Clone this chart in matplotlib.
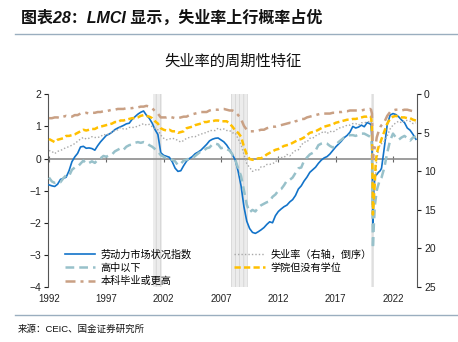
import matplotlib
matplotlib.use("Agg")
import matplotlib.pyplot as plt
import pandas as pd

plt.rcParams["font.family"] = ["Liberation Sans", "Noto Sans CJK SC", "DejaVu Sans"]
plt.rcParams["hatch.linewidth"] = 0.6

# ---- time grid: quarterly to 2019, monthly through 2020, quarterly afterwards ----
q_early = pd.date_range("1992-01-01", "2019-10-01", freq="QS")
m_2020 = pd.date_range("2020-01-01", "2020-12-01", freq="MS")
q_late = pd.date_range("2021-01-01", "2024-01-01", freq="QS")
dates = q_early.append(m_2020).append(q_late)

# Labor market conditions index (left axis)
lmci = [
    -0.82, -0.85, -0.87, -0.80,   # 1992
    -0.65, -0.62, -0.58, -0.38,   # 1993
    -0.10, 0.05, 0.16, 0.36,      # 1994
    0.38, 0.32, 0.33, 0.31,       # 1995
    0.26, 0.40, 0.52, 0.62,       # 1996
    0.72, 0.76, 0.82, 0.90,       # 1997
    0.95, 0.99, 1.03, 1.08,       # 1998
    1.10, 1.22, 1.30, 1.38,       # 1999
    1.44, 1.48, 1.35, 1.25,       # 2000
    1.10, 0.90, 0.75, 0.18,       # 2001
    0.10, 0.07, 0.04, -0.10,      # 2002
    -0.30, -0.40, -0.38, -0.22,   # 2003
    -0.08, 0.00, 0.06, 0.15,      # 2004
    0.20, 0.26, 0.35, 0.44,       # 2005
    0.55, 0.60, 0.63, 0.64,       # 2006
    0.58, 0.52, 0.42, 0.28,       # 2007
    0.12, -0.05, -0.40, -0.85,    # 2008
    -1.50, -1.95, -2.18, -2.30,   # 2009
    -2.33, -2.28, -2.22, -2.15,   # 2010
    -2.05, -1.97, -2.00, -1.78,   # 2011
    -1.65, -1.57, -1.50, -1.45,   # 2012
    -1.35, -1.28, -1.15, -0.95,   # 2013
    -0.85, -0.70, -0.58, -0.43,   # 2014
    -0.35, -0.27, -0.15, -0.05,   # 2015
    0.02, 0.06, 0.14, 0.25,       # 2016
    0.36, 0.45, 0.54, 0.65,       # 2017
    0.72, 0.82, 1.00, 0.95,       # 2018
    0.98, 1.04, 0.99, 1.12,       # 2019
    1.08, 1.05, 0.60, -2.08, -1.00, -0.60,   # 2020 H1
    -0.52, -0.50, -0.46, -0.42, -0.40, -0.36,  # 2020 H2
    -0.30, 0.35, 1.05, 1.35,      # 2021
    1.40, 1.37, 1.30, 1.20,       # 2022
    1.12, 0.95, 0.88, 0.75,       # 2023
    0.60,                         # 2024
]

# Headline unemployment rate, % (right axis, inverted)
unrate = [
    7.3, 7.4, 7.7, 7.4,  7.3, 7.1, 6.9, 6.8,  6.6, 6.4, 6.1, 5.8,
    5.6, 5.8, 5.7, 5.5,  5.6, 5.6, 5.5, 5.2,  5.3, 5.1, 4.9, 4.7,
    4.6, 4.3, 4.5, 4.5,  4.3, 4.3, 4.3, 4.1,  4.0, 3.8, 4.0, 3.9,
    4.2, 4.4, 4.6, 5.3,  5.7, 5.9, 5.8, 5.7,  5.8, 6.0, 6.2, 6.0,
    5.7, 5.6, 5.5, 5.5,  5.3, 5.2, 5.0, 5.0,  4.7, 4.7, 4.7, 4.4,
    4.6, 4.5, 4.7, 4.7,  5.0, 5.0, 5.8, 6.5,  7.8, 9.0, 9.5, 10.0,
    9.8, 9.9, 9.4, 9.4,  9.1, 9.1, 9.0, 8.8,  8.3, 8.2, 8.2, 7.8,
    8.0, 7.6, 7.3, 7.2,  6.6, 6.2, 6.2, 5.7,  5.7, 5.4, 5.2, 5.0,
    4.8, 5.1, 4.8, 4.9,  4.7, 4.4, 4.3, 4.2,  4.0, 4.0, 3.8, 3.8,
    4.0, 3.7, 3.7, 3.6,
    3.5, 3.5, 4.4, 14.8, 13.2, 11.0, 10.2, 8.4, 7.8, 6.8, 6.7, 6.7,
    6.4, 6.1, 5.4, 4.5,  4.0, 3.7, 3.5, 3.7,  3.4, 3.4, 3.5, 3.8,
    3.7,
]

# Unemployment rate, less than a high school diploma, %
below_hs = [
    10.8, 11.3, 11.5, 11.4,  11.4, 10.9, 10.5, 10.6,  9.8, 9.5, 9.4, 9.0,
    8.6, 9.0, 8.9, 8.7,  8.9, 8.5, 8.3, 8.0,  8.1, 7.9, 7.8, 7.4,
    7.2, 7.0, 7.2, 6.8,  6.6, 6.5, 6.3, 6.2,  6.3, 6.2, 6.3, 6.6,
    6.8, 7.1, 7.4, 7.9,  8.1, 8.3, 8.4, 8.5,  8.7, 9.2, 9.0, 8.6,
    8.5, 8.3, 8.3, 8.0,  7.7, 7.4, 7.3, 7.0,  6.9, 6.5, 6.4, 6.5,
    7.0, 6.9, 7.1, 7.3,  7.8, 8.5, 9.6, 10.6,  12.5, 14.3, 15.3, 15.0,
    15.2, 14.7, 14.4, 14.2,  14.0, 13.9, 13.3, 13.0,  12.5, 12.3, 11.8, 11.2,
    11.1, 10.8, 10.2, 9.6,  9.5, 8.6, 8.2, 7.8,  7.6, 7.3, 6.6, 6.4,
    6.3, 6.4, 6.7, 6.9,  6.6, 6.2, 5.9, 5.6,  5.5, 5.3, 5.3, 5.4,
    5.2, 5.1, 5.1, 5.3,
    5.5, 5.7, 6.8, 20.0, 17.0, 14.5, 13.5, 12.5, 12.0, 11.6, 11.2, 11.0,
    10.8, 9.5, 7.6, 6.0,  5.1, 5.6, 5.9, 5.6,  5.4, 5.7, 6.0, 5.6,
    5.5,
]

# Unemployment rate, some college but no degree, %
some_college = [
    5.8, 6.0, 6.2, 5.9,  5.8, 5.7, 5.4, 5.4,  5.3, 5.2, 5.0, 4.8,
    4.6, 4.7, 4.6, 4.5,  4.5, 4.3, 4.2, 4.1,  4.0, 3.9, 3.8, 3.6,
    3.6, 3.4, 3.4, 3.3,  3.2, 3.1, 3.1, 3.0,  2.8, 2.7, 2.8, 2.9,
    3.1, 3.5, 3.8, 4.4,  4.6, 4.7, 4.6, 4.8,  4.8, 5.0, 4.9, 4.8,
    4.4, 4.3, 4.2, 4.0,  3.9, 3.8, 3.6, 3.6,  3.5, 3.5, 3.4, 3.4,
    3.5, 3.5, 3.5, 3.8,  4.2, 4.7, 5.0, 5.5,  6.8, 7.8, 8.4, 8.5,
    8.5, 8.3, 8.3, 8.1,  7.8, 7.6, 7.4, 7.2,  7.1, 6.9, 6.7, 6.6,
    6.5, 6.3, 6.1, 5.9,  5.8, 5.6, 5.3, 5.0,  4.9, 4.8, 4.6, 4.4,
    4.2, 4.1, 4.0, 3.9,  3.7, 3.6, 3.5, 3.4,  3.3, 3.3, 3.2, 3.2,
    3.1, 3.0, 2.9, 2.9,
    2.8, 2.9, 4.2, 15.6, 13.5, 11.5, 8.8, 7.8, 7.2, 6.8, 6.5, 6.2,
    5.8, 4.8, 3.8, 3.2,  2.9, 2.8, 2.9, 3.0,  3.0, 3.1, 3.1, 3.3,
    3.4,
]

# Unemployment rate, bachelor's degree and higher, %
bachelor_plus = [
    3.1, 3.1, 3.0, 3.0,  3.1, 2.9, 2.8, 2.9,  2.9, 2.7, 2.7, 2.5,
    2.5, 2.4, 2.5, 2.4,  2.4, 2.3, 2.3, 2.2,  2.2, 2.1, 2.0, 2.0,
    1.9, 1.9, 1.9, 1.8,  1.8, 1.8, 1.7, 1.7,  1.6, 1.6, 1.5, 1.6,
    1.8, 2.2, 2.5, 3.0,  3.0, 3.0, 2.9, 3.0,  3.1, 3.1, 3.0, 2.9,
    2.9, 2.7, 2.6, 2.5,  2.4, 2.3, 2.3, 2.3,  2.1, 2.0, 2.0, 2.0,
    1.9, 1.9, 2.0, 2.1,  2.1, 2.3, 2.7, 3.2,  4.1, 4.6, 4.8, 4.8,
    4.8, 4.7, 4.6, 4.6,  4.4, 4.3, 4.2, 4.2,  4.1, 4.0, 3.9, 3.8,
    3.7, 3.8, 3.5, 3.4,  3.2, 3.2, 3.0, 2.9,  2.8, 2.7, 2.6, 2.5,
    2.5, 2.5, 2.5, 2.4,  2.4, 2.3, 2.3, 2.2,  2.2, 2.1, 2.1, 2.1,
    2.1, 2.1, 2.0, 2.0,
    1.9, 2.0, 2.5, 8.4, 7.4, 6.9, 6.5, 5.6, 5.2, 4.8, 4.6, 4.2,
    4.0, 3.6, 2.8, 2.3,  2.1, 2.0, 2.0, 2.1,  2.0, 2.0, 2.1, 2.2,
    2.2,
]

# Recession periods (first and last month shaded)
rec_start = ["2001-02-01", "2007-11-01", "2020-02-01"]
rec_end = ["2001-10-31", "2009-04-30", "2020-04-30"]

year_ticks = [1992, 1997, 2002, 2007, 2012, 2017, 2022]

labels = {
    "lmci": "劳动力市场状况指数",
    "below_hs": "高中以下",
    "bachelor": "本科毕业或更高",
    "unrate": "失业率（右轴，倒序）",
    "college": "学院但没有学位",
}

fig = plt.figure(figsize=(4.58, 3.42), dpi=100)
fig.patch.set_facecolor("white")

ax = fig.add_axes([0.1048, 0.1608, 0.8057, 0.5635])
ax2 = ax.twinx()

# recession shading
for s, e in zip(rec_start, rec_end):
    ax.axvspan(pd.Timestamp(s), pd.Timestamp(e), facecolor="#ececec",
               edgecolor="#d4d4d4", hatch="||||", linewidth=0, zorder=0)

ax.axhline(0, color="#8c8c8c", lw=1.2, zorder=1)

h_lmci, = ax.plot(dates, lmci, color="#1273c9", lw=1.2, zorder=3,
                  label=labels["lmci"])

h_un, = ax2.plot(dates, unrate, color="#a8a8a8", lw=1.0,
                 linestyle=(0, (1, 1.5)), label=labels["unrate"])
h_hs, = ax2.plot(dates, below_hs, color="#98c1ca", lw=1.8,
                 linestyle=(0, (3.5, 2)), label=labels["below_hs"])
h_col, = ax2.plot(dates, some_college, color="#ffc000", lw=1.8,
                  linestyle=(0, (2.5, 1.3)), label=labels["college"])
h_ba, = ax2.plot(dates, bachelor_plus, color="#c9a084", lw=1.8,
                 linestyle=(0, (4, 2, 1.2, 2)), label=labels["bachelor"])

# axes limits
ax.set_xlim(pd.Timestamp("1991-12-01"), pd.Timestamp("2024-02-05"))
ax.set_ylim(-4, 2)
ax2.set_ylim(25, 0)

# left axis
ax.set_yticks([-4, -3, -2, -1, 0, 1, 2])
ax.tick_params(axis="y", direction="out", length=3, width=0.8,
               labelsize=7.5, pad=2, colors="#222222")
# x labels along the bottom, ticks on the zero line
xt = [pd.Timestamp(f"{y}-01-01") for y in year_ticks]
ax.set_xticks(xt)
ax.set_xticklabels([str(y) for y in year_ticks])
ax.tick_params(axis="x", length=0, labelsize=7, pad=5, colors="#222222")
zero_axis = ax.secondary_xaxis(2 / 3)
zero_axis.set_xticks(xt)
zero_axis.set_xticklabels([])
zero_axis.tick_params(axis="x", direction="inout", length=4, width=0.8,
                      color="#666666")
zero_axis.spines["bottom"].set_visible(False)
zero_axis.spines["top"].set_visible(False)

for sp in ["top", "right", "bottom"]:
    ax.spines[sp].set_visible(False)
ax.spines["left"].set_color("#555555")
ax.spines["left"].set_linewidth(0.8)

# right axis
ax2.set_yticks([0, 5, 10, 15, 20, 25])
ax2.tick_params(axis="y", direction="out", length=3, width=0.8,
                labelsize=7.5, pad=2, colors="#222222")
for sp in ["top", "left", "bottom"]:
    ax2.spines[sp].set_visible(False)
ax2.spines["right"].set_color("#555555")
ax2.spines["right"].set_linewidth(0.8)

leg = ax2.legend(handles=[h_lmci, h_hs, h_ba, h_un, h_col], ncol=2,
                 loc="upper left", bbox_to_anchor=(0.141, 0.27),
                 bbox_transform=fig.transFigure, frameon=False,
                 fontsize=7.3, handlelength=3.0, handletextpad=0.55,
                 columnspacing=4.2, labelspacing=0.3, borderpad=0,
                 borderaxespad=0)
leg.set_zorder(10)

# headings and source
fig.text(0.046, 0.947, "图表28：LMCI 显示，失业率上行概率占优",
         fontsize=11.5, fontweight="bold", style="italic",
         va="center", ha="left", color="#111111")
fig.add_artist(plt.Line2D([0.033, 1.0], [0.9006, 0.9006],
                          transform=fig.transFigure, color="#9aaebf", lw=1.0))
fig.text(0.508, 0.819, "失业率的周期性特征", fontsize=11, ha="center",
         va="center", color="#111111")
fig.add_artist(plt.Line2D([0.033, 1.0], [0.079, 0.079],
                          transform=fig.transFigure, color="#9aaebf", lw=1.0))
fig.text(0.039, 0.037, "来源：CEIC、国金证券研究所", fontsize=6.8,
         ha="left", va="center", color="#111111")

fig.savefig("out.png", dpi=100, facecolor="white")
